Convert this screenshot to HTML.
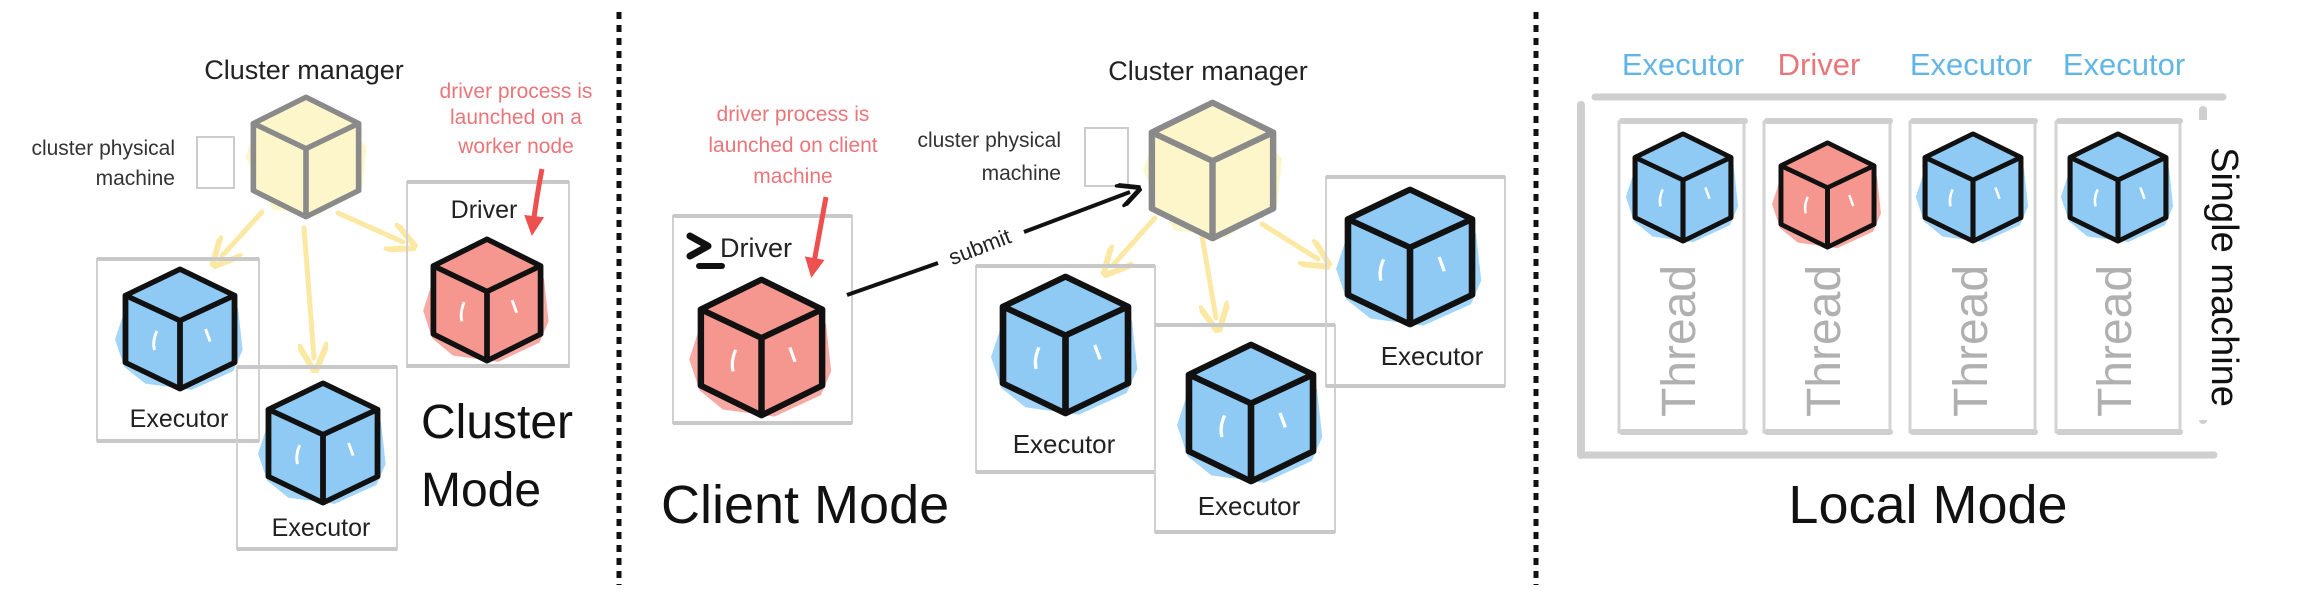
<!DOCTYPE html>
<html><head><meta charset="utf-8"><style>
html,body{margin:0;padding:0;background:#fff;}
svg{display:block;}
text{font-family:"Liberation Sans Narrow","Liberation Sans",sans-serif;}
</style></head><body>
<svg width="2298" height="590" viewBox="0 0 2298 590" xmlns="http://www.w3.org/2000/svg">
<defs>
<symbol id="cb" viewBox="0 0 100 120" preserveAspectRatio="none" overflow="visible">
<path d="M0,50 L6,30 L30,18 L70,20 L100,40 L104,80 L96,100 L60,118 L20,112 L2,96 L-6,70 Z" fill="#a3d5f8"/>
<path d="M50,3 L97,28 L97,92 L50,117 L3,92 L3,28 Z" fill="#8fcaf5" stroke="#111" stroke-width="5" stroke-linejoin="round"/>
<path d="M3,28 L50,52 L97,28 M50,52 L50,117" fill="none" stroke="#111" stroke-width="5" stroke-linejoin="round"/>
<path d="M30,62 Q26,72 28,80 M72,60 L76,72" stroke="#fff" stroke-width="2.5" fill="none"/>
</symbol>
<symbol id="cr" viewBox="0 0 100 120" preserveAspectRatio="none" overflow="visible">
<path d="M0,50 L6,30 L30,18 L70,20 L100,40 L104,80 L96,100 L60,118 L20,112 L2,96 L-6,70 Z" fill="#f7a9a4"/>
<path d="M50,3 L97,28 L97,92 L50,117 L3,92 L3,28 Z" fill="#f5968f" stroke="#111" stroke-width="5" stroke-linejoin="round"/>
<path d="M3,28 L50,52 L97,28 M50,52 L50,117" fill="none" stroke="#111" stroke-width="5" stroke-linejoin="round"/>
<path d="M30,62 Q26,72 28,80 M72,60 L76,72" stroke="#fff" stroke-width="2.5" fill="none"/>
</symbol>
<symbol id="cy" viewBox="0 0 100 120" preserveAspectRatio="none" overflow="visible">
<path d="M-4,60 L6,30 L40,16 L80,24 L104,50 L100,90 L60,116 L20,110 Z" fill="#fdf7cf"/>
<path d="M50,3 L97,28 L97,92 L50,117 L3,92 L3,28 Z" fill="#fdf6cb" stroke="#8a8a8a" stroke-width="5" stroke-linejoin="round"/>
<path d="M3,28 L50,52 L97,28 M50,52 L50,117" fill="none" stroke="#8a8a8a" stroke-width="5" stroke-linejoin="round"/>
</symbol>
<marker id="ay" markerWidth="6" markerHeight="6" refX="3" refY="3" orient="auto" markerUnits="strokeWidth"><path d="M0,0 L6,3 L0,6" fill="none" stroke="#fbe8a3" stroke-width="1.2"/></marker>
<marker id="ak" markerWidth="6" markerHeight="6" refX="3" refY="3" orient="auto" markerUnits="strokeWidth"><path d="M0,0 L6,3 L0,6" fill="none" stroke="#111" stroke-width="1.2"/></marker>
<marker id="ar" markerWidth="4" markerHeight="4" refX="2" refY="2" orient="auto" markerUnits="strokeWidth"><path d="M0,0 L4,2 L0,4 Z" fill="#ee4f4f"/></marker>
</defs>

<line x1="619" y1="12" x2="619" y2="585" stroke="#111" stroke-width="5" stroke-dasharray="7 6"/>
<line x1="1536" y1="12" x2="1536" y2="585" stroke="#111" stroke-width="5" stroke-dasharray="7 6"/>

<text x="304" y="79" font-size="27" text-anchor="middle" fill="#222">Cluster manager</text>
<text x="175" y="155" font-size="21" text-anchor="end" fill="#333">cluster physical</text>
<text x="175" y="185" font-size="21" text-anchor="end" fill="#333">machine</text>
<rect x="197" y="137" width="37" height="51" fill="none" stroke="#ccc" stroke-width="2"/>
<text x="516" y="98" font-size="21" text-anchor="middle" fill="#e8767a">driver process is</text>
<text x="516" y="124" font-size="21" text-anchor="middle" fill="#e8767a">launched on a</text>
<text x="516" y="153" font-size="21" text-anchor="middle" fill="#e8767a">worker node</text>

<g stroke="#fbe8a3" stroke-width="5" fill="none" stroke-linecap="round">
<path d="M262,212 L222,256" marker-end="url(#ay)"/>
<path d="M304,228 L314,358" marker-end="url(#ay)"/>
<path d="M338,213 L403,242" marker-end="url(#ay)"/>
</g>
<rect x="97" y="259" width="162" height="182" fill="none" stroke="#d0d0d0" stroke-width="2"/>
<line x1="97" y1="259" x2="259" y2="259" stroke="#c8c8c8" stroke-width="4"/>
<line x1="97" y1="441" x2="259" y2="441" stroke="#c8c8c8" stroke-width="4"/>
<rect x="237" y="367" width="160" height="182" fill="none" stroke="#d0d0d0" stroke-width="2"/>
<line x1="237" y1="367" x2="397" y2="367" stroke="#c8c8c8" stroke-width="4"/>
<line x1="237" y1="549" x2="397" y2="549" stroke="#c8c8c8" stroke-width="4"/>
<rect x="407" y="182" width="162" height="185" fill="none" stroke="#d0d0d0" stroke-width="2"/>
<line x1="407" y1="182" x2="569" y2="182" stroke="#c8c8c8" stroke-width="4"/>
<line x1="407" y1="366" x2="569" y2="366" stroke="#c8c8c8" stroke-width="4"/>

<use href="#cy" x="250" y="94" width="112" height="126"/>
<use href="#cb" x="122" y="266" width="116" height="126"/>
<use href="#cb" x="265" y="380" width="116" height="126"/>
<use href="#cr" x="430" y="236" width="114" height="128"/>
<text x="484" y="218" font-size="25" text-anchor="middle" fill="#222">Driver</text>
<text x="179" y="427" font-size="25" text-anchor="middle" fill="#222">Executor</text>
<text x="321" y="536" font-size="25" text-anchor="middle" fill="#222">Executor</text>
<path d="M542,169 Q536,200 533,226" stroke="#ee4f4f" stroke-width="5" fill="none" marker-end="url(#ar)"/>
<text x="421" y="438" font-size="48" fill="#111">Cluster</text>
<text x="421" y="506" font-size="48" fill="#111">Mode</text>

<text x="1208" y="80" font-size="27" text-anchor="middle" fill="#222">Cluster manager</text>
<text x="1061" y="147" font-size="21" text-anchor="end" fill="#333">cluster physical</text>
<text x="1061" y="180" font-size="21" text-anchor="end" fill="#333">machine</text>
<rect x="1085" y="128" width="43" height="58" fill="none" stroke="#ccc" stroke-width="2"/>
<text x="793" y="121" font-size="21" text-anchor="middle" fill="#e8767a">driver process is</text>
<text x="793" y="152" font-size="21" text-anchor="middle" fill="#e8767a">launched on client</text>
<text x="793" y="183" font-size="21" text-anchor="middle" fill="#e8767a">machine</text>

<g stroke="#fbe8a3" stroke-width="5" fill="none" stroke-linecap="round">
<path d="M1155,218 L1113,265" marker-end="url(#ay)"/>
<path d="M1202,236 L1216,318" marker-end="url(#ay)"/>
<path d="M1262,224 L1318,259" marker-end="url(#ay)"/>
</g>
<rect x="673" y="216" width="179" height="207" fill="none" stroke="#d0d0d0" stroke-width="2"/>
<line x1="673" y1="216" x2="852" y2="216" stroke="#c8c8c8" stroke-width="4"/>
<line x1="673" y1="423" x2="852" y2="423" stroke="#c8c8c8" stroke-width="4"/>
<rect x="976" y="266" width="179" height="206" fill="none" stroke="#d0d0d0" stroke-width="2"/>
<line x1="976" y1="266" x2="1155" y2="266" stroke="#c8c8c8" stroke-width="4"/>
<line x1="976" y1="472" x2="1155" y2="472" stroke="#c8c8c8" stroke-width="4"/>
<rect x="1155" y="325" width="180" height="207" fill="none" stroke="#d0d0d0" stroke-width="2"/>
<line x1="1155" y1="325" x2="1335" y2="325" stroke="#c8c8c8" stroke-width="4"/>
<line x1="1155" y1="532" x2="1335" y2="532" stroke="#c8c8c8" stroke-width="4"/>
<rect x="1326" y="177" width="179" height="209" fill="none" stroke="#d0d0d0" stroke-width="2"/>
<line x1="1326" y1="177" x2="1505" y2="177" stroke="#c8c8c8" stroke-width="4"/>
<line x1="1326" y1="386" x2="1505" y2="386" stroke="#c8c8c8" stroke-width="4"/>

<use href="#cy" x="1148" y="99" width="129" height="143"/>
<use href="#cr" x="697" y="276" width="129" height="143"/>
<use href="#cb" x="999" y="273" width="133" height="144"/>
<use href="#cb" x="1185" y="341" width="132" height="144"/>
<use href="#cb" x="1344" y="186" width="132" height="142"/>

<path d="M690,236 L708,246 L690,256" stroke="#111" stroke-width="7" fill="none" stroke-linejoin="round" stroke-linecap="round"/>
<line x1="699" y1="266" x2="722" y2="266" stroke="#111" stroke-width="6" stroke-linecap="round"/>
<text x="720" y="257" font-size="27" fill="#222">Driver</text>
<path d="M826,197 Q818,240 813,268" stroke="#ee4f4f" stroke-width="5" fill="none" marker-end="url(#ar)"/>
<path d="M847,295 L938,263 M1024,232 L1130,192" stroke="#111" stroke-width="4" fill="none" marker-end="url(#ak)"/>
<text x="981" y="254" font-size="22" text-anchor="middle" fill="#222" transform="rotate(-21 981 250)">submit</text>
<text x="1064" y="453" font-size="26" text-anchor="middle" fill="#222">Executor</text>
<text x="1249" y="515" font-size="26" text-anchor="middle" fill="#222">Executor</text>
<text x="1432" y="365" font-size="26" text-anchor="middle" fill="#222">Executor</text>
<text x="661" y="523" font-size="54" fill="#111">Client Mode</text>

<text x="1683" y="75" font-size="31" text-anchor="middle" fill="#62b6e6">Executor</text>
<text x="1819" y="75" font-size="31" text-anchor="middle" fill="#e8767a">Driver</text>
<text x="1971" y="75" font-size="31" text-anchor="middle" fill="#62b6e6">Executor</text>
<text x="2124" y="75" font-size="31" text-anchor="middle" fill="#62b6e6">Executor</text>

<g stroke="#cfcfcf" stroke-linecap="round" fill="none">
<line x1="1595" y1="97" x2="2223" y2="97" stroke-width="7"/>
<line x1="1581" y1="105" x2="1581" y2="455" stroke-width="8"/>
<line x1="1581" y1="455" x2="2214" y2="455" stroke-width="7"/>
<line x1="2203" y1="110" x2="2203" y2="420" stroke-width="8"/>
</g>
<rect x="2195" y="120" width="40" height="300" fill="#fff"/>
<g fill="none">
<rect x="1619" y="122" width="125" height="310" stroke="#d3d3d3" stroke-width="3"/>
<rect x="1764" y="122" width="126" height="310" stroke="#d3d3d3" stroke-width="3"/>
<rect x="1910" y="122" width="125" height="310" stroke="#d3d3d3" stroke-width="3"/>
<rect x="2056" y="122" width="124" height="310" stroke="#d3d3d3" stroke-width="3"/>
<g stroke="#cfcfcf" stroke-width="6" stroke-linecap="round">
<line x1="1622" y1="121" x2="1745" y2="121"/><line x1="1767" y1="121" x2="1890" y2="121"/>
<line x1="1913" y1="121" x2="2035" y2="121"/><line x1="2059" y1="121" x2="2180" y2="121"/>
<line x1="1622" y1="432" x2="1745" y2="432"/><line x1="1767" y1="432" x2="1890" y2="432"/>
<line x1="1913" y1="432" x2="2035" y2="432"/><line x1="2059" y1="432" x2="2180" y2="432"/>
</g>
</g>
<use href="#cb" x="1632" y="131" width="102" height="113"/>
<use href="#cr" x="1778" y="140" width="99" height="110"/>
<use href="#cb" x="1922" y="131" width="102" height="113"/>
<use href="#cb" x="2067" y="131" width="102" height="113"/>
<g font-size="48" fill="#b0b0b0" text-anchor="middle">
<text transform="translate(1695,341) rotate(-90)">Thread</text>
<text transform="translate(1840,341) rotate(-90)">Thread</text>
<text transform="translate(1987,341) rotate(-90)">Thread</text>
<text transform="translate(2131,341) rotate(-90)">Thread</text>
</g>
<text transform="translate(2212,277) rotate(90)" font-size="38" text-anchor="middle" fill="#111">Single machine</text>
<text x="1928" y="523" font-size="54" text-anchor="middle" fill="#111">Local Mode</text>
</svg>
</body></html>
